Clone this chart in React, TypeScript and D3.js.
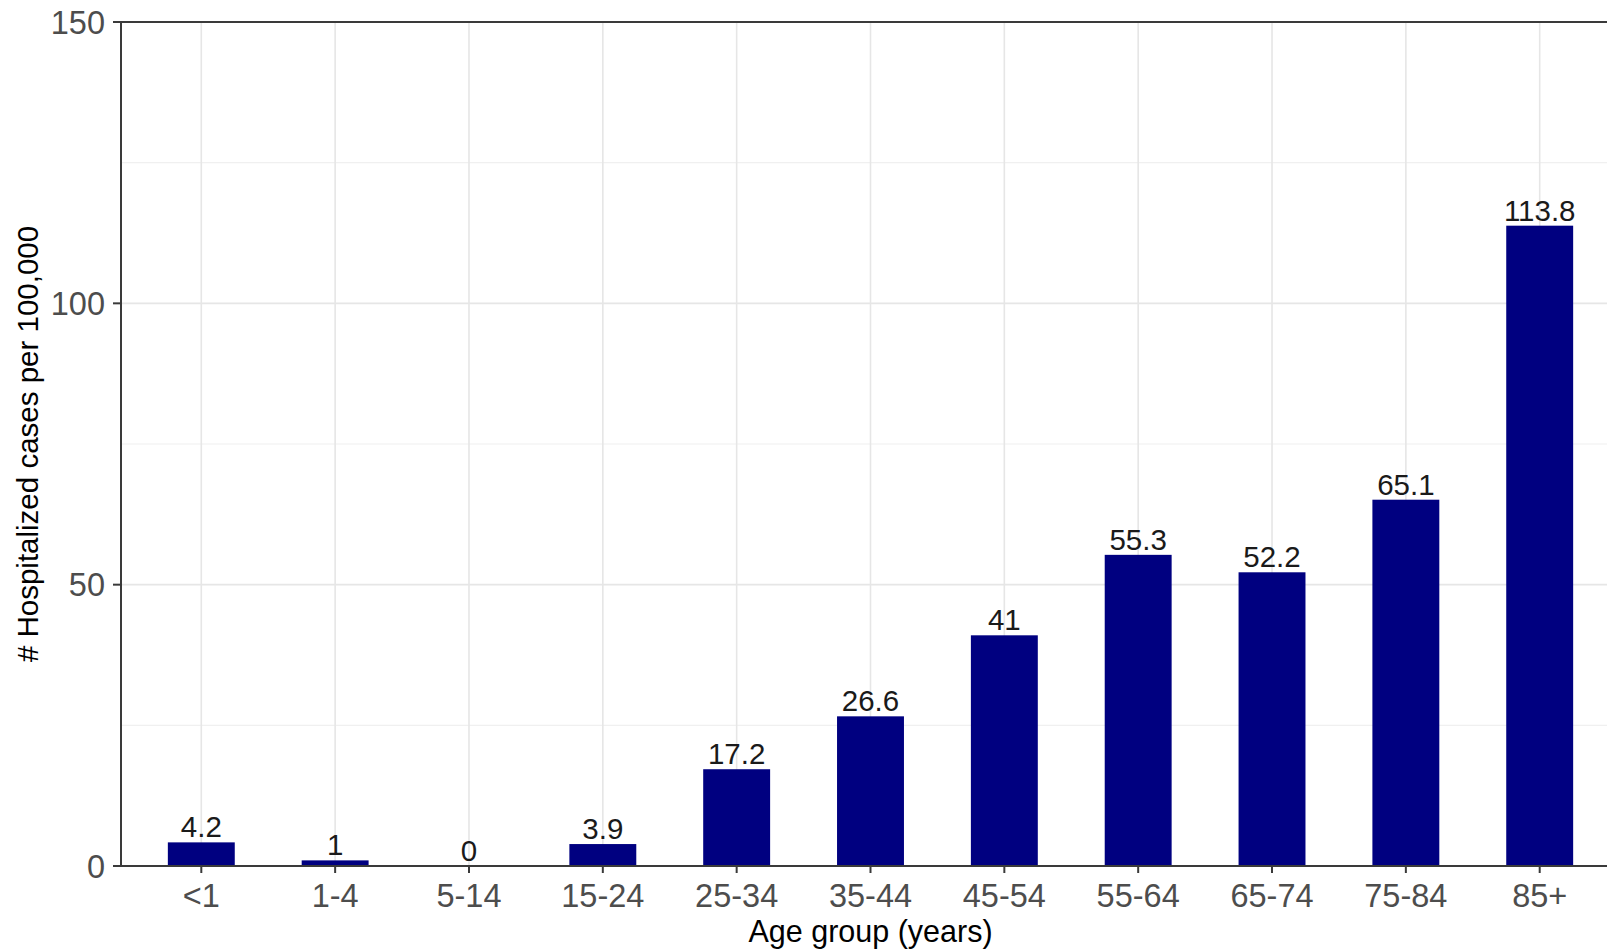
import React from "react";
import * as d3 from "d3";

const categories = ["<1", "1-4", "5-14", "15-24", "25-34", "35-44", "45-54", "55-64", "65-74", "75-84", "85+"];
const values = [4.2, 1, 0, 3.9, 17.2, 26.6, 41, 55.3, 52.2, 65.1, 113.8];
const labels = ["4.2", "1", "0", "3.9", "17.2", "26.6", "41", "55.3", "52.2", "65.1", "113.8"];
const majorTicks = [0, 50, 100, 150];
const minorTicks = [25, 75, 125];

const W = 1607;
const H = 949;
const left = 121;
const right = 1620;
const top = 22;
const bottom = 866;
const FONT = "'Liberation Sans', Arial, sans-serif";

export default function App() {
  const x = d3.scaleBand<string>().domain(categories).range([left, right]).paddingInner(0.5).paddingOuter(0.35);
  const y = d3.scaleLinear().domain([0, 150]).range([bottom, top]);
  const bw = x.bandwidth();
  const cx = (c: string) => (x(c) as number) + bw / 2;

  return (
    <svg width={W} height={H} style={{ position: "absolute", left: 0, top: 0, background: "#fff" }}>
      <rect x={0} y={0} width={W} height={H} fill="#fff" />
      {minorTicks.map((t) => (
        <line key={"mi" + t} x1={left} x2={right} y1={y(t)} y2={y(t)} stroke="#f0f0f0" strokeWidth={1.2} />
      ))}
      {majorTicks.map((t) => (
        <line key={"ma" + t} x1={left} x2={right} y1={y(t)} y2={y(t)} stroke="#e6e6e6" strokeWidth={1.6} />
      ))}
      {categories.map((c) => (
        <line key={"vg" + c} x1={cx(c)} x2={cx(c)} y1={top} y2={bottom} stroke="#e6e6e6" strokeWidth={1.6} />
      ))}
      {categories.map((c, i) => (
        <rect key={"b" + c} x={x(c)} y={y(values[i])} width={bw} height={y(0) - y(values[i])} fill="#000080" />
      ))}
      {categories.map((c, i) => (
        <text key={"l" + c} x={cx(c)} y={y(values[i]) - 5} textAnchor="middle" fontFamily={FONT} fontSize={29.5} fill="#1a1a1a">
          {labels[i]}
        </text>
      ))}
      <rect x={left} y={top} width={right - left} height={bottom - top} fill="none" stroke="#3a3a3a" strokeWidth={2} />
      {majorTicks.map((t) => (
        <g key={"yt" + t}>
          <line x1={left - 8} x2={left} y1={y(t)} y2={y(t)} stroke="#3a3a3a" strokeWidth={2} />
          <text x={left - 16} y={y(t)} dy="0.36em" textAnchor="end" fontFamily={FONT} fontSize={32.5} fill="#4d4d4d">
            {t}
          </text>
        </g>
      ))}
      {categories.map((c) => (
        <g key={"xt" + c}>
          <line x1={cx(c)} x2={cx(c)} y1={bottom} y2={bottom + 7} stroke="#3a3a3a" strokeWidth={2} />
          <text x={cx(c)} y={907} textAnchor="middle" fontFamily={FONT} fontSize={32.5} fill="#4d4d4d">
            {c}
          </text>
        </g>
      ))}
      <text x={(left + right) / 2} y={942} textAnchor="middle" fontFamily={FONT} fontSize={30.5} fill="#000">
        Age group (years)
      </text>
      <text
        transform={`translate(38, ${(top + bottom) / 2}) rotate(-90)`}
        textAnchor="middle"
        fontFamily={FONT}
        fontSize={29.5}
        fill="#000"
      >
        # Hospitalized cases per 100,000
      </text>
    </svg>
  );
}
